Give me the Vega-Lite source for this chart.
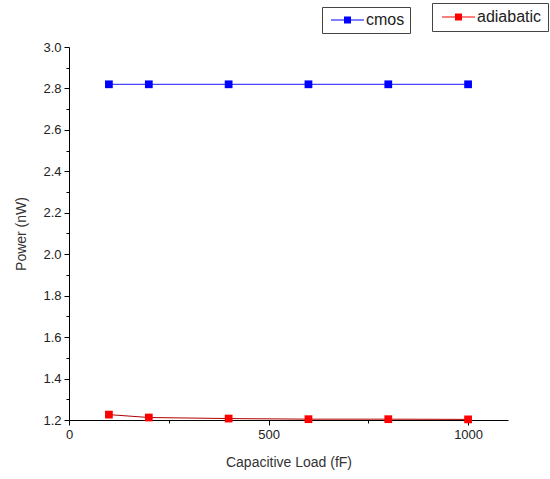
{
  "$schema": "https://vega.github.io/schema/vega-lite/v6.json",
  "autosize": "none",
  "width": 439,
  "height": 373,
  "padding": {"left": 69, "top": 47, "right": 42, "bottom": 59},
  "background": "white",
  "config": {
    "view": {"stroke": null},
    "font": "Liberation Sans",
    "axis": {"domainColor": "#000", "tickColor": "#000", "labelColor": "#222", "titleColor": "#333", "labelFontSize": 13, "titleFontSize": 14, "titleFontWeight": "normal", "grid": false}
  },
  "data": {"values": [
    {"load": 100, "power": 2.82, "series": "cmos"},
    {"load": 200, "power": 2.82, "series": "cmos"},
    {"load": 400, "power": 2.82, "series": "cmos"},
    {"load": 600, "power": 2.82, "series": "cmos"},
    {"load": 800, "power": 2.82, "series": "cmos"},
    {"load": 1000, "power": 2.82, "series": "cmos"},
    {"load": 100, "power": 1.226, "series": "adiabatic"},
    {"load": 200, "power": 1.212, "series": "adiabatic"},
    {"load": 400, "power": 1.207, "series": "adiabatic"},
    {"load": 600, "power": 1.204, "series": "adiabatic"},
    {"load": 800, "power": 1.204, "series": "adiabatic"},
    {"load": 1000, "power": 1.203, "series": "adiabatic"}
  ]},
  "encoding": {
    "x": {"field": "load", "type": "quantitative", "scale": {"domain": [0, 1100], "nice": false},
      "axis": {"title": "Capacitive Load (fF)", "values": [0, 250, 500, 750, 1000],
        "labelExpr": "datum.value % 500 == 0 ? format(datum.value, 'd') : ''",
        "tickSize": {"condition": {"test": "datum.value % 500 == 0", "value": 5}, "value": 3},
        "labelPadding": 3, "titlePadding": 14, "labelFlush": false}},
    "y": {"field": "power", "type": "quantitative", "scale": {"domain": [1.2, 3.0], "nice": false, "zero": false},
      "axis": {"title": "Power (nW)", "values": [1.2, 1.3, 1.4, 1.5, 1.6, 1.7, 1.8, 1.9, 2.0, 2.1, 2.2, 2.3, 2.4, 2.5, 2.6, 2.7, 2.8, 2.9, 3.0],
        "labelExpr": "round(datum.value * 10) % 2 == 0 ? format(datum.value, '.1f') : ''",
        "tickSize": {"condition": {"test": "round(datum.value * 10) % 2 == 0", "value": 5}, "value": 3},
        "labelPadding": 3, "titlePadding": 14, "labelFlush": false}}
  },
  "layer": [
    {
      "transform": [{"filter": "datum.series == 'cmos'"}],
      "layer": [
        {"mark": {"type": "line", "color": "#1a1aff", "strokeWidth": 1}, "encoding": {}},
        {"mark": {"type": "point", "shape": "square", "filled": true, "size": 60, "opacity": 1},
          "encoding": {"color": {"field": "series", "type": "nominal",
            "scale": {"domain": ["cmos"], "range": ["#0000ff"]},
            "legend": {"title": null, "orient": "none", "legendX": 253, "legendY": -40,
              "strokeColor": "#444", "padding": 5, "labelFontSize": 16, "labelColor": "#222", "labelFont": "Liberation Sans",
              "symbolType": "M-1,-0.125H7.25V0.125H-1Z M2.25,-0.875H4V0.875H2.25Z", "symbolSize": 64, "symbolStrokeWidth": 0, "symbolOpacity": 1, "labelOffset": 23}}}}
      ]
    },
    {
      "transform": [{"filter": "datum.series == 'adiabatic'"}],
      "layer": [
        {"mark": {"type": "line", "color": "#b00000", "strokeWidth": 1}, "encoding": {}},
        {"mark": {"type": "point", "shape": "square", "filled": true, "size": 60, "opacity": 1},
          "encoding": {"color": {"field": "series", "type": "nominal",
            "scale": {"domain": ["adiabatic"], "range": ["#ff0000"]},
            "legend": {"title": null, "orient": "none", "legendX": 363, "legendY": -44,
              "strokeColor": "#444", "padding": 6, "labelFontSize": 16, "labelColor": "#222", "labelFont": "Liberation Sans",
              "symbolType": "M-1,-0.125H7.25V0.125H-1Z M2.25,-0.875H4V0.875H2.25Z", "symbolSize": 64, "symbolStrokeWidth": 0, "symbolOpacity": 1, "labelOffset": 23}}}}
      ]
    }
  ],
  "resolve": {"scale": {"color": "independent"}}
}
